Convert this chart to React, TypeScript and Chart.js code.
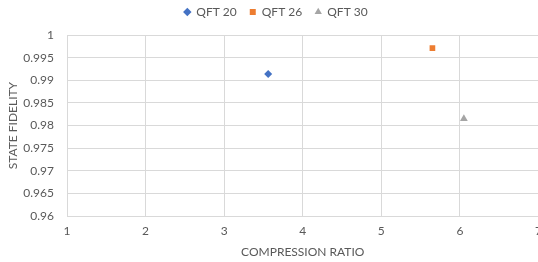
import React, { useEffect, useRef } from "react";
import { Chart, registerables } from "chart.js";
Chart.register(...registerables);

const seriesNames = ["QFT 20", "QFT 26", "QFT 30"];
const compressionRatio = [3.56, 5.65, 6.05];
const stateFidelity = [0.9914, 0.9971, 0.9815];
const colors = ["#4472C4", "#ED7D31", "#A5A5A5"];
const pointStyles = ["rectRot", "rect", "triangle"];
const pointRadii = [4, 4, 4.5];

const legendMargin = {
  id: "legendMargin",
  beforeInit(chart: any) {
    const orig = chart.legend.fit;
    chart.legend.fit = function () {
      orig.bind(chart.legend)();
      this.height += 7;
    };
  },
};

export default function App() {
  const ref = useRef<HTMLCanvasElement>(null);
  useEffect(() => {
    document.body.style.margin = "0";
    const font = "Lato, 'Open Sans', sans-serif";
    const chart = new Chart(ref.current!, {
      type: "scatter",
      data: {
        datasets: seriesNames.map((name, i) => ({
          label: name,
          data: [{ x: compressionRatio[i], y: stateFidelity[i] }],
          backgroundColor: colors[i],
          borderColor: colors[i],
          pointStyle: pointStyles[i] as any,
          pointRadius: pointRadii[i],
          borderWidth: 0,
        })),
      },
      plugins: [legendMargin],
      options: {
        animation: false,
        responsive: false,
        maintainAspectRatio: false,
        layout: { padding: { left: 2, right: 0, top: -7, bottom: 3 } },
        plugins: {
          tooltip: { enabled: false },
          legend: {
            position: "top",
            labels: {
              usePointStyle: true,
              boxWidth: 6,
              boxHeight: 6,
              padding: 13,
              color: "#595959",
              font: { family: font, size: 12 },
            },
          },
        },
        scales: {
          x: {
            type: "linear",
            min: 1,
            max: 7,
            ticks: { stepSize: 1, color: "#595959", padding: 8, font: { family: font, size: 12 } },
            grid: { color: "#d9d9d9", drawTicks: false },
            border: { color: "#d9d9d9" },
            title: { display: true, text: "COMPRESSION RATIO", color: "#595959", font: { family: font, size: 12 }, padding: { top: -2, bottom: 0 } },
          },
          y: {
            type: "linear",
            min: 0.96,
            max: 1,
            afterFit: (scale: any) => { scale.width = 65; },
            ticks: { stepSize: 0.005, color: "#595959", padding: 13, font: { family: font, size: 12 }, callback: (v: any) => String(Number(v.toFixed(3))) },
            grid: { color: "#d9d9d9", drawTicks: false },
            border: { color: "#d9d9d9" },
            title: { display: true, text: "STATE FIDELITY", color: "#595959", font: { family: font, size: 12 }, padding: { top: 4, bottom: 0 } },
          },
        },
      },
    });
    return () => chart.destroy();
  }, []);
  return (
    <div style={{ width: 538, height: 262, overflow: "hidden", position: "relative" }}>
      <canvas ref={ref} width={550} height={262} style={{ display: "block", width: 550, height: 262 }} />
    </div>
  );
}
